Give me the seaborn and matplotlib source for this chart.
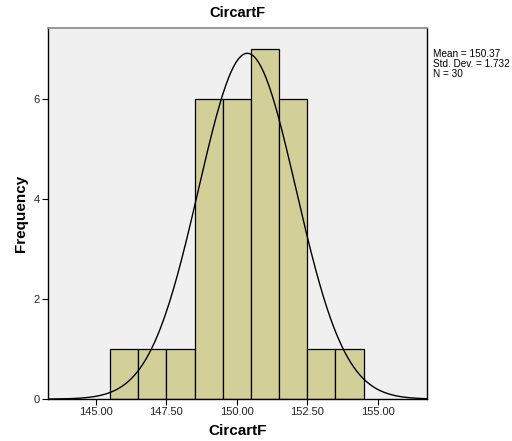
import matplotlib

matplotlib.use("Agg")

import matplotlib.pyplot as plt
import numpy as np
import pandas as pd
import seaborn as sns

# histogram of CircartF (bin width 1)
bin_centers = [146, 147, 148, 149, 150, 151, 152, 153, 154]
counts = [1, 1, 1, 6, 6, 7, 6, 1, 1]
x_ticks = [145.0, 147.5, 150.0, 152.5, 155.0]
y_ticks = [0, 2, 4, 6]

mean = 150.37
std_dev = 1.732
n_obs = 30

sns.set_theme(style="white")
plt.rcParams["font.family"] = ["Liberation Sans", "DejaVu Sans"]
plt.rcParams["text.color"] = "black"
plt.rcParams["axes.labelcolor"] = "black"

fig = plt.figure(figsize=(5.12, 4.41), dpi=100)
ax = fig.add_axes([0.094, 0.095, 0.740, 0.842])
ax.set_facecolor("#F0F0F0")

df = pd.DataFrame({"CircartF": bin_centers, "count": counts})
edges = list(np.arange(145.5, 155.5, 1.0))
sns.histplot(data=df, x="CircartF", weights="count", bins=edges, color="#D3CF99",
             edgecolor="black", linewidth=0.9, alpha=1, ax=ax)

xs = np.linspace(143.3, 156.75, 400)
ys = n_obs * 1.0 / (std_dev * np.sqrt(2 * np.pi)) * np.exp(-0.5 * ((xs - mean) / std_dev) ** 2)
ax.plot(xs, ys, color="black", linewidth=1.0)

ax.set_xlim(143.3, 156.75)
ax.set_ylim(0, 7.42)
ax.set_xticks(x_ticks)
ax.set_xticklabels([f"{t:.2f}" for t in x_ticks])
ax.set_yticks(y_ticks)
ax.tick_params(axis="x", length=4, width=0.8, labelsize=8, pad=2, bottom=True,
               colors="black", labelcolor="#222222")
ax.tick_params(axis="y", length=4, width=0.8, labelsize=8, pad=2, left=True,
               colors="black", labelcolor="#222222")

for side in ["left", "bottom", "right"]:
    ax.spines[side].set_color("black")
    ax.spines[side].set_linewidth(1.0)
ax.spines["top"].set_color("#888888")
ax.spines["top"].set_linewidth(1.2)

ax.set_title("CircartF", fontsize=10.5, fontweight="bold", pad=8)
ax.set_xlabel("CircartF", fontsize=11, fontweight="bold", labelpad=5)
ax.set_ylabel("Frequency", fontsize=11, fontweight="bold", labelpad=4)

fig.text(0.846, 0.888,
         f"Mean = {mean:.2f}\nStd. Dev. = {std_dev:.3f}\nN = {n_obs}",
         fontsize=7.2, va="top", ha="left", linespacing=0.95)

fig.savefig("out.png", dpi=100)
plt.close(fig)
